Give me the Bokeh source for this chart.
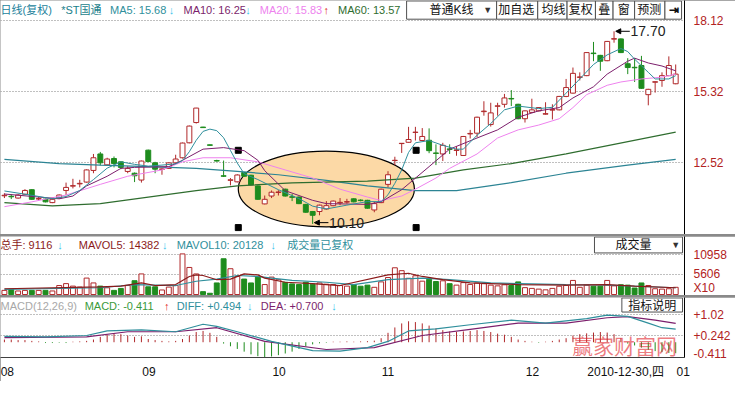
from bokeh.plotting import figure
from bokeh.layouts import column
from bokeh.models import (Range1d, FixedTicker, PrintfTickFormatter, Label,
                          BoxAnnotation, Arrow, NormalHead, ColumnDataSource)
from bokeh.embed import file_html
from bokeh.resources import INLINE

# ---------------- data ----------------
month_labels = ["08", "09", "10", "11", "12", "01"]
month_pos = [0.43, 21.1, 40.1, 56.0, 77.1, 99.1]
date_label = "2010-12-30,四"
date_pos = 90.7

opens = [11.21, 11.19, 11.12, 11.27, 11.45, 11.08, 11.08, 10.94, 11.12, 11.42,
         11.59, 11.68, 11.75, 12.21, 12.86, 12.43, 12.68, 12.55, 12.17, 12.10,
         11.83, 13.01, 12.51, 12.25, 12.29, 12.51, 12.71, 13.30, 14.10, 13.92,
         13.22, 12.60, 12.00, 11.82, 11.76, 12.13, 12.02, 11.60, 10.89, 11.20,
         11.34, 11.47, 11.17, 11.16, 10.87, 10.59, 10.59, 10.69, 10.82, 10.93,
         10.96, 11.09, 11.04, 11.03, 10.65, 10.94, 11.66, 12.60, 13.27, 13.32,
         13.71, 13.39, 13.40, 12.90, 12.86, 13.06, 13.00, 12.80, 13.65, 13.68,
         14.53, 14.02, 14.74, 14.82, 15.05, 14.82, 14.25, 14.50, 14.56, 14.43,
         14.59, 14.60, 15.13, 15.26, 15.88, 15.95, 16.84, 16.75, 16.54, 17.39,
         17.40, 16.42, 16.28, 16.35, 15.20, 15.69, 15.76, 15.95, 15.63]
highs = [11.31, 11.27, 11.27, 11.47, 11.47, 11.16, 11.10, 11.09, 11.26, 11.73,
         11.88, 11.84, 12.25, 12.86, 12.94, 12.71, 12.76, 12.56, 12.38, 12.13,
         12.60, 13.03, 12.55, 12.29, 12.53, 12.83, 13.31, 13.98, 14.68, 13.93,
         13.23, 12.63, 12.60, 11.91, 12.06, 12.15, 12.04, 11.62, 11.22, 11.42,
         11.43, 11.49, 11.28, 11.18, 10.89, 10.61, 10.86, 11.00, 11.02, 11.12,
         11.09, 11.11, 11.07, 11.05, 10.97, 11.49, 12.18, 12.75, 13.29, 13.93,
         13.93, 13.88, 13.87, 13.24, 13.30, 13.24, 13.16, 13.57, 13.81, 14.33,
         14.94, 14.88, 14.88, 15.23, 15.38, 14.84, 14.58, 15.04, 14.71, 14.90,
         14.82, 15.15, 15.82, 16.27, 16.08, 16.88, 17.28, 16.77, 17.32, 17.70,
         17.42, 16.64, 16.64, 16.73, 15.43, 15.72, 16.08, 16.71, 16.39]
lows = [11.12, 11.08, 11.10, 11.25, 11.05, 11.04, 10.95, 10.92, 11.10, 11.23,
        11.50, 11.54, 11.73, 12.10, 12.41, 12.41, 12.33, 12.26, 12.10, 11.75,
        11.73, 12.54, 12.10, 12.04, 12.27, 12.48, 12.68, 13.28, 14.06, 13.89,
        13.19, 12.56, 11.95, 11.62, 11.74, 11.96, 11.62, 11.05, 10.87, 11.12,
        11.22, 11.18, 11.00, 10.88, 10.54, 10.10, 10.44, 10.66, 10.80, 10.84,
        10.90, 10.95, 10.99, 10.70, 10.56, 10.92, 11.54, 12.42, 12.90, 13.31,
        13.39, 13.38, 12.89, 12.42, 12.58, 12.86, 12.79, 12.78, 13.47, 13.52,
        14.37, 13.94, 14.37, 14.69, 14.75, 14.23, 14.10, 14.48, 14.54, 14.41,
        14.22, 14.58, 15.10, 15.24, 15.76, 15.93, 16.52, 16.14, 16.52, 17.25,
        16.84, 16.01, 15.70, 15.43, 14.78, 15.28, 15.51, 15.93, 15.61]
closes = [11.23, 11.17, 11.24, 11.42, 11.07, 11.10, 10.97, 11.07, 11.24, 11.54,
          11.61, 11.70, 12.23, 12.71, 12.51, 12.66, 12.48, 12.33, 12.29, 12.00,
          12.58, 12.56, 12.26, 12.27, 12.51, 12.66, 13.29, 13.96, 14.67, 13.90,
          13.20, 12.58, 11.98, 11.84, 12.03, 11.98, 11.64, 11.07, 11.07, 11.35,
          11.36, 11.20, 11.15, 10.90, 10.56, 10.44, 10.84, 10.82, 11.00, 10.95,
          10.98, 10.97, 11.02, 10.72, 10.90, 11.47, 12.04, 12.61, 13.28, 13.43,
          13.72, 13.55, 12.99, 12.88, 13.20, 13.04, 13.02, 13.55, 13.67, 14.31,
          14.55, 14.48, 14.76, 15.07, 15.03, 14.25, 14.56, 14.60, 14.69, 14.45,
          14.61, 15.13, 15.48, 16.04, 15.90, 16.86, 16.82, 16.52, 17.30, 17.41,
          16.86, 16.27, 16.26, 15.45, 15.41, 15.71, 15.95, 16.35, 16.01]

ma5_idx = [0, 4, 7, 9, 11, 13, 15, 17, 19, 21, 23, 25, 26, 27, 28, 29, 30, 31, 32, 33,
           34, 35, 37, 40, 43, 45, 47, 50, 53, 55, 56, 57, 58, 59, 60, 62, 64, 66, 67,
           69, 71, 73, 75, 78, 80, 82, 84, 86, 88, 90, 91, 92, 94, 95, 97, 98]
ma5_val = [11.40, 11.23, 11.09, 11.18, 11.42, 11.85, 12.30, 12.55, 12.45, 12.38, 12.42,
           12.47, 12.60, 12.95, 13.40, 13.75, 13.84, 13.78, 13.50, 13.00, 12.50, 12.08,
           11.85, 11.45, 11.10, 10.80, 10.69, 10.84, 10.98, 10.98, 11.25, 11.70, 12.23,
           12.92, 13.30, 13.39, 13.20, 13.05, 13.05, 13.60, 14.06, 14.60, 14.75, 14.65,
           14.70, 15.26, 15.82, 16.39, 16.77, 17.02, 16.90, 16.60, 16.08, 15.82, 15.82,
           15.95]
ma10_idx = [0, 5, 8, 10, 12, 15, 17, 19, 24, 26, 29, 32, 35, 37, 38, 41, 45, 47, 53, 55,
            58, 62, 65, 69, 72, 75, 78, 81, 83, 86, 88, 91, 92, 94, 96, 98]
ma10_val = [11.28, 11.16, 11.09, 11.20, 11.60, 11.98, 12.29, 12.33, 12.36, 12.61, 13.05,
            13.11, 12.99, 12.61, 12.20, 11.41, 11.03, 10.90, 10.87, 10.97, 11.45, 12.36,
            13.05, 13.49, 13.81, 14.31, 14.56, 14.69, 15.07, 15.51, 16.01, 16.52, 16.64,
            16.45, 16.33, 16.14]
ma20_idx = [0, 4, 9, 14, 18, 23, 26, 29, 33, 37, 41, 45, 49, 53, 55, 58, 60, 63, 65, 69,
            72, 75, 78, 81, 83, 85, 88, 90, 93, 96, 98]
ma20_val = [10.78, 10.97, 11.24, 11.66, 11.98, 12.23, 12.55, 12.71, 12.71, 12.55, 12.23,
            11.91, 11.47, 11.16, 11.02, 11.20, 11.47, 11.91, 12.29, 12.86, 13.49, 13.81,
            14.00, 14.25, 14.69, 15.20, 15.57, 15.70, 15.82, 15.89, 16.01]
ma60_idx = [0, 7, 14, 21, 28, 34, 42, 53, 60, 67, 74, 82, 89, 98]
ma60_val = [10.94, 10.81, 10.90, 11.16, 11.41, 11.60, 11.72, 11.79, 11.91, 12.23, 12.48,
            12.86, 13.24, 13.72]
ma120_idx = [0, 8, 14, 21, 28, 34, 40, 47, 53, 60, 66, 74, 82, 91, 98]
ma120_val = [12.65, 12.48, 12.42, 12.36, 12.29, 12.17, 12.04, 11.82, 11.60, 11.41, 11.41,
             11.73, 12.10, 12.42, 12.65]

vols = [1150, 1420, 990, 1150, 1150, 1150, 1150, 990, 2490, 3020,
        2330, 2060, 4550, 3210, 2330, 1870, 1150, 1690, 2490, 3830,
        5700, 2140, 2140, 1260, 2060, 2490, 11240, 7490, 5700, 800,
        350, 3210, 9900, 7140, 5000, 4280, 3210, 4820, 2760, 4820,
        4100, 3390, 2940, 2760, 3390, 2850, 3210, 2850, 2760, 2490,
        2330, 2760, 2300, 2600, 2000, 3500, 4700, 7400, 6600, 4500,
        5200, 3700, 4200, 3600, 3800, 3000, 2600, 3300, 2800, 3200,
        3000, 2600, 2400, 2700, 2500, 3500, 1900, 1700, 1500, 1300,
        1700, 2300, 2500, 3900, 2000, 2600, 2300, 2300, 3900, 2400,
        2700, 2600, 1800, 3200, 2500, 1600, 1500, 1600, 2000]
mavol5_idx = [0, 14, 17, 20, 22, 25, 27, 28, 29, 31, 33, 35, 37, 38, 41, 45, 49, 56, 59,
              61, 64, 68, 75, 82, 88, 92, 98]
mavol5_val = [1600, 2140, 2330, 3210, 2490, 2760, 5000, 5430, 5270, 4100, 4280, 5700,
              5430, 4550, 3400, 3020, 2490, 5430, 5890, 5000, 4100, 3210, 2760, 2600,
              2760, 2330, 1870]
mavol10_idx = [0, 14, 19, 25, 28, 31, 34, 37, 39, 42, 47, 51, 56, 61, 65, 71, 82, 88, 98]
mavol10_val = [1420, 1870, 2760, 2490, 3670, 4280, 5270, 5000, 4550, 3930, 3400, 2760,
               4100, 4550, 4100, 3210, 2760, 2600, 1870]

macd = [0.10, 0.10, 0.08, 0.08, 0.05, 0.03, -0.03, -0.03, -0.02, -0.03,
        0.02, 0.03, 0.05, 0.10, 0.20, 0.28, 0.32, 0.30, 0.25, 0.20,
        0.22, 0.12, 0.08, 0.05, 0.03, 0.05, 0.12, 0.25, 0.38, 0.42,
        0.35, 0.20, -0.05, -0.15, -0.25, -0.35, -0.45, -0.52, -0.55, -0.53,
        -0.48, -0.42, -0.35, -0.25, -0.15, -0.08, -0.04, -0.02, 0.02, 0.02,
        0.03, 0.02, 0.03, 0.04, 0.06, 0.15, 0.35, 0.55, 0.70, 0.78,
        0.75, 0.70, 0.62, 0.52, 0.45, 0.40, 0.38, 0.40, 0.42, 0.45,
        0.42, 0.38, 0.32, 0.28, 0.20, 0.10, 0.05, 0.02, -0.02, 0.02,
        0.05, 0.10, 0.15, 0.25, 0.30, 0.33, 0.36, 0.38, 0.36, 0.30,
        0.15, -0.05, -0.12, -0.20, -0.28, -0.33, -0.37, -0.40, -0.41]
diff_idx = [0, 6, 12, 15, 20, 25, 29, 31, 34, 39, 45, 49, 53, 56, 59, 63, 68, 74, 79, 85,
            88, 91, 94, 96, 98]
diff_val = [0.22, 0.20, 0.25, 0.42, 0.46, 0.39, 0.67, 0.59, 0.39, 0.03, -0.31, -0.33,
            -0.20, 0.03, 0.42, 0.50, 0.65, 0.82, 0.71, 0.88, 1.01, 0.96, 0.71, 0.54, 0.49]
dea_idx = [0, 12, 18, 25, 31, 38, 47, 54, 61, 68, 75, 82, 88, 91, 95, 98]
dea_val = [0.17, 0.20, 0.39, 0.39, 0.54, 0.03, -0.27, -0.20, 0.25, 0.48, 0.71, 0.71,
           0.91, 0.95, 0.82, 0.70]

price_ticks = [12.52, 15.32, 18.12]
vol_ticks = [1870, 5606, 10958]
vol_tick_labels = ["X10", "5606", "10958"]
vol_grid = [5606, 10958]
macd_ticks = [-0.411, 0.242, 1.02]
macd_tick_labels = ["-0.411", "+0.242", "+1.02"]
macd_grid = [0.242, 1.02]

# ---------------- layout helpers (reference pixel -> data coords) ----------------
W = 735
RB = 51
H1, H2, H3 = 234, 59, 84
MB3 = 21


def fx(px):
    return (px - 4) / 7.0


def fyp(py):
    return 18.915 - 0.03784 * py


def fyv(py):
    return (307 - py) * 267.6


def fym(py):
    return (359.2 - py) / 29.56


FONT = "Liberation Sans, Noto Sans CJK SC, sans-serif"
UP = "#b0282a"
DN = "#1e8c1e"
AXR = "#b22222"
CYAN = "#3cc4ec"
C_MA5 = "#2f8f9c"
C_MA10 = "#7c1f6c"
C_MA20 = "#ee82ee"
C_MA60 = "#2f6d2f"
C_MA120 = "#2c8494"
GRID = "#808080"

xr = Range1d(fx(0), fx(699))


def make_fig(h, yr, bottom, xaxis=False):
    p = figure(width=W, height=h, x_range=xr, y_range=yr, title=None,
               output_backend="svg", toolbar_location=None,
               x_axis_location="below" if xaxis else None, y_axis_location="right",
               min_border_left=0, min_border_right=RB, min_border_top=0,
               min_border_bottom=bottom)
    p.outline_line_color = None
    p.background_fill_color = "white"
    p.border_fill_color = "white"
    p.xgrid.visible = False
    p.yaxis.axis_line_color = "black"
    p.yaxis.axis_line_width = 1
    p.yaxis.major_tick_line_color = None
    p.yaxis.minor_tick_line_color = None
    p.yaxis.major_label_standoff = 3
    p.yaxis.major_label_text_color = AXR
    p.yaxis.major_label_text_font = FONT
    p.yaxis.major_label_text_font_size = "12px"
    p.ygrid.grid_line_color = GRID
    p.ygrid.grid_line_dash = "1 2"
    p.ygrid.grid_line_width = 1
    return p


def txt(p, px, y, text, color, size="11px", align="left", style="normal", **kw):
    lab = Label(x=fx(px), y=y, text=text, text_color=color, text_font=FONT,
                text_font_size=size, text_baseline="middle", text_align=align,
                text_font_style=style, **kw)
    p.add_layout(lab)
    return lab


def box(p, l, r, top, bot):
    p.add_layout(BoxAnnotation(left=fx(l), right=fx(r), top=top, bottom=bot,
                               fill_color="white", fill_alpha=1.0,
                               line_color="#505050", line_width=1, line_alpha=1.0))


n = len(closes)
idx = list(range(n))
is_up = [c >= o for o, c in zip(opens, closes)]
src = ColumnDataSource(dict(
    x=idx, high=highs, low=lows,
    top=[max(o, c) for o, c in zip(opens, closes)],
    bot=[min(o, c) for o, c in zip(opens, closes)],
    col=[UP if u else DN for u in is_up],
    fill=["white" if u else DN for u in is_up],
    vol=vols,
))

# ---------------- price panel ----------------
p1 = make_fig(H1, Range1d(fyp(244), fyp(0)), 0)
t1 = FixedTicker(ticks=price_ticks)
p1.yaxis.ticker = t1
p1.ygrid.ticker = t1
p1.yaxis.formatter = PrintfTickFormatter(format="%.2f")

# highlight ellipse with selection handles
ELL_X, ELL_W = fx(333), 180 / 7.0
ELL_Y, ELL_H = (fyp(157) + fyp(236)) / 2, fyp(157) - fyp(236)
p1.ellipse(x=[ELL_X], y=[ELL_Y], width=[ELL_W], height=[ELL_H],
           fill_color="#fcd9a6", line_color="black", line_width=1.2)
hl, hr = ELL_X - ELL_W / 2, ELL_X + ELL_W / 2 + 0.25
ht, hb = ELL_Y + ELL_H / 2 + 0.03, ELL_Y - ELL_H / 2 - 0.03
p1.scatter(x=[hl, hr, hl, hr], y=[ht, ht, hb, hb], marker="square", size=6,
           color="black")

p1.segment(x0="x", y0="low", x1="x", y1="high", color="col", line_width=1, source=src)
p1.vbar(x="x", width=0.72, top="top", bottom="bot", fill_color="fill",
        line_color="col", line_width=1, source=src)

p1.line(ma120_idx, ma120_val, color=C_MA120, line_width=1.2)
p1.line(ma60_idx, ma60_val, color=C_MA60, line_width=1.2)
p1.line(ma20_idx, ma20_val, color=C_MA20, line_width=1)
p1.line(ma10_idx, ma10_val, color=C_MA10, line_width=1)
p1.line(ma5_idx, ma5_val, color=C_MA5, line_width=1)

# max / min markers
hi = max(highs)
ih = highs.index(hi)
lo = min(lows)
il = lows.index(lo)
for (i0, yv) in [(ih, hi), (il, lo + 0.05)]:
    p1.add_layout(Arrow(end=NormalHead(size=5, fill_color="black", line_color="black"),
                        x_start=i0 + 2.3, y_start=yv, x_end=i0 + 0.25, y_end=yv,
                        line_color="black", line_width=1))
p1.add_layout(Label(x=ih + 2.4, y=hi, text="%.2f" % hi, text_color="#222222",
                    text_font=FONT, text_font_size="14px", text_baseline="middle"))
p1.add_layout(Label(x=il + 2.4, y=lo + 0.05, text="%.2f" % lo, text_color="#222222",
                    text_font=FONT, text_font_size="14px", text_baseline="middle"))

# header
yh = fyp(10)
txt(p1, 0, yh, "日线(复权)", "#1b7f9b")
txt(p1, 62, yh, "*ST国通", "#1b7f8b")
txt(p1, 112, yh, "MA5: 15.68", C_MA5)
txt(p1, 172, yh, "↓", CYAN, style="bold")
txt(p1, 187, yh, "MA10: 16.25", C_MA10)
txt(p1, 250, yh, "↓", CYAN, style="bold")
txt(p1, 265, yh, "MA20: 15.83", C_MA20)
txt(p1, 330, yh, "↑", "#e02020", style="bold")
txt(p1, 345, yh, "MA60: 13.57", C_MA60)

# toolbar boxes
tb_edges = [415, 507, 549, 579, 608, 626, 648, 679, 696]
tb_texts = ["普通K线", "加自选", "均线", "复权", "叠", "窗", "预测", "⇥"]
tb_centers = [461, 527, 565, 593, 617, 637, 663, 688]
for k in range(len(tb_texts)):
    box(p1, tb_edges[k], tb_edges[k + 1], fyp(0.5), fyp(19.5))
for k in range(len(tb_texts)):
    txt(p1, tb_centers[k], yh, tb_texts[k], "#111111", size="12px", align="center",
        style="bold" if tb_texts[k] == "⇥" else "normal")
txt(p1, 498, yh, "▼", "#333333", size="9px", align="center")

# ---------------- volume panel ----------------
p2 = make_fig(H2, Range1d(fyv(308), fyv(247)), 0)
p2.yaxis.ticker = FixedTicker(ticks=vol_ticks)
p2.ygrid.ticker = FixedTicker(ticks=vol_grid)
p2.yaxis.formatter = PrintfTickFormatter(format="%d")
p2.yaxis.major_label_overrides = dict(zip(vol_ticks, vol_tick_labels))
p2.vbar(x="x", width=0.72, top="vol", bottom=0, fill_color="fill", line_color="col",
        line_width=1, source=src)
p2.line(mavol10_idx, mavol10_val, color=C_MA5, line_width=1.2)
p2.line(mavol5_idx, mavol5_val, color="#8b1a1a", line_width=1.2)

yv = fyv(256)
txt(p2, 0, yv, "总手: 9116", "#8b1a1a")
txt(p2, 58, yv, "↓", CYAN, style="bold")
txt(p2, 80, yv, "MAVOL5: 14382", "#8b1a1a")
txt(p2, 165, yv, "↓", CYAN, style="bold")
txt(p2, 180, yv, "MAVOL10: 20128", C_MA5)
txt(p2, 276, yv, "↓", CYAN, style="bold")
txt(p2, 293, yv, "成交量已复权", C_MA5)
box(p2, 607, 697, fyv(247.5), fyv(264))
txt(p2, 647, yv, "成交量", "#111111", size="12px", align="center")
txt(p2, 690, yv, "▼", "#333333", size="9px", align="center")

# ---------------- MACD panel ----------------
p3 = make_fig(H3, Range1d(fym(376), fym(310)), MB3, xaxis=True)
p3.yaxis.ticker = FixedTicker(ticks=macd_ticks)
p3.ygrid.ticker = FixedTicker(ticks=macd_grid)
p3.yaxis.major_label_overrides = dict(zip(macd_ticks, macd_tick_labels))
x_ticks = month_pos + [date_pos]
x_labels = month_labels + [date_label]
p3.xaxis.ticker = FixedTicker(ticks=x_ticks)
p3.xaxis.major_label_overrides = dict(zip(x_ticks, x_labels))
p3.xaxis.major_tick_line_color = None
p3.xaxis.minor_tick_line_color = None
p3.xaxis.major_label_standoff = 1
p3.xaxis.axis_line_color = "#404040"
p3.xaxis.major_label_text_font = FONT
p3.xaxis.major_label_text_font_size = "12px"
p3.xaxis.major_label_text_color = "#111111"

p3.segment(x0=idx, y0=[0] * n, x1=idx, y1=macd,
           color=[UP if m >= 0 else DN for m in macd], line_width=1)
p3.line(dea_idx, dea_val, color=C_MA10, line_width=1.2)
p3.line(diff_idx, diff_val, color=C_MA5, line_width=1.2)

ym = fym(319)
txt(p3, 0, ym, "MACD(12,26,9)", "#a8a8a8")
txt(p3, 86, ym, "MACD: -0.411", "#3a9a3a")
txt(p3, 167, ym, "↑", "#e02020", style="bold")
txt(p3, 180, ym, "DIFF: +0.494", C_MA5)
txt(p3, 252, ym, "↓", CYAN, style="bold")
txt(p3, 266, ym, "DEA: +0.700", C_MA10)
txt(p3, 338, ym, "↓", CYAN, style="bold")
box(p3, 635, 697, fym(310.5), fym(326))
txt(p3, 666, ym, "指标说明", "#111111", size="12px", align="center")

# watermark (kept inside the panel so it is not cut)
p3.add_layout(Label(x=fx(584), y=fym(362), text="赢家财富网", text_color="#e0242c",
                    text_alpha=0.6, text_font="Noto Sans CJK SC, sans-serif",
                    text_font_size="21px", text_baseline="middle"))

layout = column(p1, p2, p3, spacing=2, styles={"background-color": "#8a8a8a"})

open("out.html", "w").write(file_html(layout, INLINE))
